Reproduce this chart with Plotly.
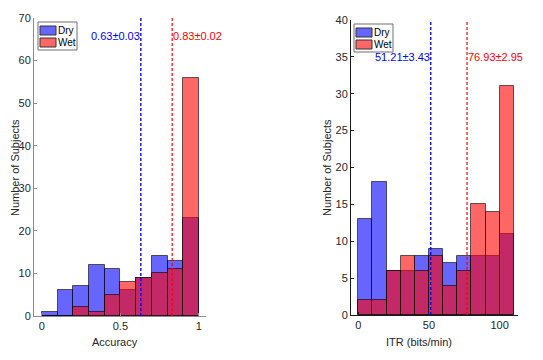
import plotly.graph_objects as go

# ---- data ----
acc_bin_left = [0.0, 0.1, 0.2, 0.3, 0.4, 0.5, 0.6, 0.7, 0.8, 0.9]
acc_dry = [1, 6, 7, 12, 11, 6, 9, 14, 13, 23]
acc_wet = [0, 0, 2, 1, 5, 8, 9, 10, 11, 56]
acc_means = {"Dry": (0.63, "0.63±0.03"), "Wet": (0.83, "0.83±0.02")}

itr_bin_left = [0, 10, 20, 30, 40, 50, 60, 70, 80, 90, 100]
itr_dry = [13, 18, 6, 6, 8, 9, 7, 8, 8, 8, 11]
itr_wet = [2, 2, 6, 8, 6, 8, 4, 6, 15, 14, 31]
itr_means = {"Dry": (51.21, "51.21±3.43"), "Wet": (76.93, "76.93±2.95")}

series_names = ["Dry", "Wet"]
x_titles = ["Accuracy", "ITR (bits/min)"]
y_title = "Number of Subjects"

acc_width = 0.1
itr_width = 10

# page body has an 8px margin: the figure is placed at (8, 8) in the window
OX, OY = 8, 8
W, H = 543 - OX, 360 - OY
BLUE = "rgba(0,0,255,0.6)"
RED = "rgba(255,0,0,0.6)"
EDGE = "rgba(0,0,0,0.6)"
FONT = "Liberation Sans, Arial, sans-serif"
COLORS = {"Dry": BLUE, "Wet": RED}


def px(x):
    return (x - OX) / W


def py(y):
    return 1 - (y - OY) / H


fig = go.Figure()


def add_hist(bin_left, width, dry, wet, xa, ya):
    centers = [b + width / 2 for b in bin_left]
    for name, vals in zip(series_names, [dry, wet]):
        fig.add_trace(go.Bar(x=centers, y=vals, width=width, name=name,
                             marker=dict(color=COLORS[name], line=dict(color=EDGE, width=1)),
                             xaxis=xa, yaxis=ya, showlegend=False))


add_hist(acc_bin_left, acc_width, acc_dry, acc_wet, "x", "y")
add_hist(itr_bin_left, itr_width, itr_dry, itr_wet, "x2", "y2")

shapes = []
annotations = []
for (means, xr, yr, ytop, ylab) in [(acc_means, "x", "y", 70, 36), (itr_means, "x2", "y2", 40, 57)]:
    for name, (val, label) in means.items():
        col = "rgba(0,0,255,0.9)" if name == "Dry" else "rgba(255,0,0,0.8)"
        shapes.append(dict(type="line", xref=xr, yref=yr, x0=val, x1=val, y0=0, y1=ytop,
                           line=dict(color=col, width=1.5, dash="3px,2px")))
        annotations.append(dict(xref=xr, yref="paper", x=val, y=py(ylab),
                                text=label, showarrow=False,
                                xanchor="right" if name == "Dry" else "left",
                                yanchor="middle", xshift=1 if name == "Dry" else -1,
                                font=dict(color="#0000ff" if name == "Dry" else "#ff0000",
                                          size=11, family=FONT)))

# manual MATLAB-style legends (box + wide swatches + labels)
for (lx, ly) in [(38, 22), (354, 24)]:
    shapes.append(dict(type="rect", xref="paper", yref="paper",
                       x0=px(lx), x1=px(lx + 39), y0=py(ly), y1=py(ly + 28),
                       line=dict(color="#6e6e6e", width=1), fillcolor="white", layer="above"))
    for i, name in enumerate(series_names):
        top = ly + 4 + i * 12
        shapes.append(dict(type="rect", xref="paper", yref="paper",
                           x0=px(lx + 2), x1=px(lx + 18), y0=py(top), y1=py(top + 9),
                           line=dict(color="#333", width=1), fillcolor=COLORS[name],
                           layer="above"))
        annotations.append(dict(xref="paper", yref="paper", x=px(lx + 18), y=py(top + 4.5),
                                text=name, showarrow=False, xanchor="left", yanchor="middle",
                                font=dict(size=10, family=FONT, color="#000")))

# axis titles placed as in the reference
title_font = dict(size=11, color="#262626", family=FONT)
for (tx, ty), text in zip([(115, 342), (419, 342)], x_titles):
    annotations.append(dict(xref="paper", yref="paper", x=px(tx), y=py(ty), text=text,
                            showarrow=False, xanchor="center", yanchor="middle",
                            font=title_font))
for tx in [15, 327]:
    annotations.append(dict(xref="paper", yref="paper", x=px(tx), y=py(168), text=y_title,
                            showarrow=False, xanchor="center", yanchor="middle",
                            textangle=-90, font=title_font))

axis_common = dict(showgrid=False, zeroline=False, ticks="inside", ticklen=3,
                   showline=True, mirror=False, automargin=False,
                   tickfont=dict(size=11, color="#262626", family=FONT))

fig.update_layout(
    width=W, height=H,
    margin=dict(l=0, r=0, t=0, b=0),
    paper_bgcolor="white", plot_bgcolor="white",
    barmode="overlay",
    bargap=0,
    showlegend=False,
    font=dict(family=FONT, size=11, color="#262626"),
    shapes=shapes, annotations=annotations,
    xaxis=dict(domain=[px(34), px(206)], range=[-0.05, 1.045], tickvals=[0, 0.5, 1],
               ticktext=["0", "0.5", "1"],
               anchor="y", linecolor="#8c8c8c", tickcolor="#8c8c8c", **axis_common),
    yaxis=dict(domain=[py(316), py(18)], range=[0, 70], dtick=10,
               anchor="x", linecolor="#8c8c8c", tickcolor="#8c8c8c", **axis_common),
    xaxis2=dict(domain=[px(351), px(518)], range=[-5.2, 113], tickvals=[0, 50, 100],
                anchor="y2", linecolor="#1a1a1a", tickcolor="#1a1a1a", **axis_common),
    yaxis2=dict(domain=[py(315), py(20)], range=[0, 40], dtick=5,
                anchor="x2", linecolor="#1a1a1a", tickcolor="#1a1a1a", **axis_common),
)

fig.write_html("out.html")
